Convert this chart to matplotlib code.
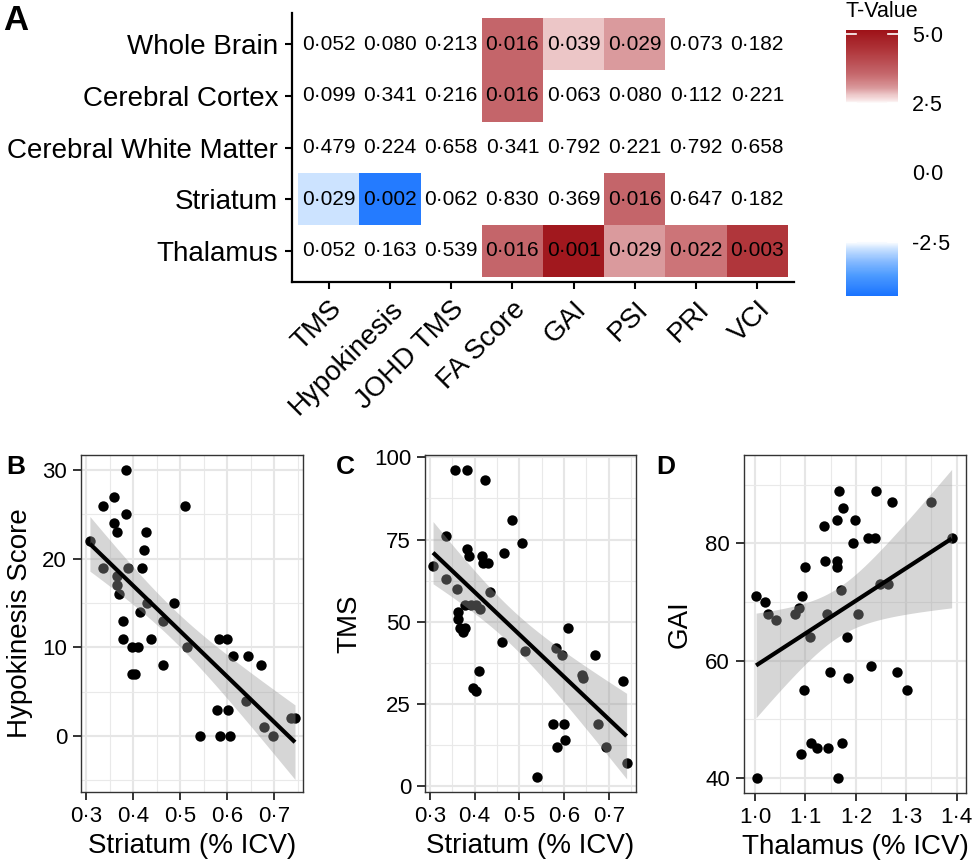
import numpy as np
import matplotlib
matplotlib.use("Agg")
import matplotlib.pyplot as plt
from matplotlib.colors import LinearSegmentedColormap, Normalize
from matplotlib.cm import ScalarMappable
from matplotlib.ticker import FuncFormatter, MultipleLocator

plt.rcParams['font.family'] = ['Liberation Sans', 'DejaVu Sans']

# ---------------- data ----------------
regions = ["Whole Brain", "Cerebral Cortex", "Cerebral White Matter", "Striatum", "Thalamus"]
measures = ["TMS", "Hypokinesis", "JOHD TMS", "FA Score", "GAI", "PSI", "PRI", "VCI"]
p_values = [
    [0.052, 0.080, 0.213, 0.016, 0.039, 0.029, 0.073, 0.182],
    [0.099, 0.341, 0.216, 0.016, 0.063, 0.080, 0.112, 0.221],
    [0.479, 0.224, 0.658, 0.341, 0.792, 0.221, 0.792, 0.658],
    [0.029, 0.002, 0.062, 0.830, 0.369, 0.016, 0.647, 0.182],
    [0.052, 0.163, 0.539, 0.016, 0.001, 0.029, 0.022, 0.003],
]
nan = np.nan
t_values = [
    [nan, nan, nan, 3.6, 2.8, 3.05, nan, nan],
    [nan, nan, nan, 3.6, nan, nan, nan, nan],
    [nan, nan, nan, nan, nan, nan, nan, nan],
    [-2.75, -4.3, nan, nan, nan, 3.6, nan, nan],
    [nan, nan, nan, 3.6, 5.0, 3.05, 3.4, 4.4],
]
cbar_ticks = [-2.5, 0.0, 2.5, 5.0]

striatum_b = [0.308, 0.335, 0.335, 0.360, 0.360, 0.366, 0.385, 0.385, 0.388, 0.365,
              0.365, 0.370, 0.379, 0.378, 0.397, 0.411, 0.397, 0.404, 0.427, 0.422,
              0.418, 0.415, 0.429, 0.437, 0.464, 0.487, 0.464, 0.510, 0.515, 0.541,
              0.578, 0.582, 0.585, 0.600, 0.602, 0.605, 0.613, 0.640, 0.643, 0.672,
              0.679, 0.698, 0.735, 0.744]
hypokinesis = [22, 26, 19, 27, 24, 23, 30, 25, 19, 18,
               17, 16, 13, 11, 10, 10, 7, 7, 23, 21,
               19, 14, 15, 11, 13, 15, 8, 26, 10, 0,
               3, 11, 0, 11, 3, 0, 9, 4, 9, 8,
               1, 0, 2, 2]

striatum_c = [0.307, 0.335, 0.335, 0.357, 0.360, 0.362, 0.363, 0.367, 0.375, 0.378,
              0.378, 0.384, 0.384, 0.387, 0.393, 0.404, 0.412, 0.416, 0.418, 0.431,
              0.424, 0.435, 0.410, 0.396, 0.402, 0.462, 0.465, 0.484, 0.507, 0.513,
              0.539, 0.576, 0.584, 0.582, 0.596, 0.601, 0.603, 0.610, 0.640, 0.643,
              0.669, 0.675, 0.695, 0.733, 0.740]
tms = [67, 76, 63, 96, 60, 53, 51, 48, 47, 48,
       55, 96, 72, 70, 55, 55, 54, 70, 68, 68,
       93, 59, 35, 30, 29, 44, 71, 81, 74, 41,
       3, 19, 12, 42, 40, 19, 14, 48, 34, 33,
       40, 19, 12, 32, 7]

thalamus = [1.003, 1.002, 1.020, 1.026, 1.042, 1.079, 1.087, 1.094, 1.100, 1.097,
            1.091, 1.109, 1.110, 1.122, 1.137, 1.139, 1.142, 1.149, 1.145, 1.162,
            1.162, 1.162, 1.167, 1.170, 1.172, 1.165, 1.175, 1.182, 1.185, 1.194,
            1.198, 1.205, 1.225, 1.237, 1.230, 1.240, 1.248, 1.264, 1.271, 1.282,
            1.301, 1.350, 1.390]
gai = [40, 71, 70, 68, 67, 68, 69, 71, 76, 55,
       44, 64, 46, 45, 83, 77, 68, 58, 45, 84,
       77, 76, 89, 72, 46, 40, 86, 64, 57, 80,
       84, 68, 81, 81, 59, 89, 73, 73, 87, 58,
       55, 87, 81]

# ---------------- colour scale ----------------
vmin, vmax = -4.46, 5.14
stops = [(-4.46, "#1A73FF"), (-3.7, "#4E9CFF"), (-3.2, "#88BBFF"), (-2.75, "#CCE3FF"),
         (-2.5, "#FFFFFF"), (2.5, "#FFFFFF"), (2.6, "#F8E8E8"), (2.8, "#EDC8C9"),
         (3.05, "#DA9A9D"), (3.4, "#CC7579"), (3.6, "#C4656A"), (4.4, "#B0363B"),
         (5.14, "#9E1218")]
cmap = LinearSegmentedColormap.from_list(
    "tval", [((v - vmin) / (vmax - vmin), c) for v, c in stops], N=512)
cmap.set_bad((1, 1, 1, 0))
norm = Normalize(vmin=vmin, vmax=vmax)

def dotfmt(v, digits=1):
    return f"{v:.{digits}f}".replace(".", "\u00b7")

W, H = 975, 866
fig = plt.figure(figsize=(W / 100, H / 100), dpi=100)

def rect(x0, y0, x1, y1):
    return [x0 / W, 1 - y1 / H, (x1 - x0) / W, (y1 - y0) / H]

# ---------------- heatmap ----------------
ax = fig.add_axes(rect(292, 13, 794, 282))
tv = np.ma.masked_invalid(np.array(t_values, dtype=float))
ax.pcolormesh(np.arange(len(measures) + 1) - 0.5, np.arange(len(regions) + 1) - 0.5,
              tv, cmap=cmap, norm=norm, shading='flat')
for i in range(len(regions)):
    for j in range(len(measures)):
        ax.text(j, i, dotfmt(p_values[i][j], 3), ha='center', va='center',
                fontsize=15, color='black')
ax.set_xlim(-0.6, len(measures) - 0.4)
ax.set_ylim(len(regions) - 0.4, -0.6)
ax.set_xticks(range(len(measures)))
ax.set_yticks(range(len(regions)))
ax.set_yticklabels(regions, fontsize=20)
ax.set_xticklabels(measures, fontsize=20, rotation=45, ha='right', va='top',
                   rotation_mode='anchor')
for s in ['top', 'right']:
    ax.spines[s].set_visible(False)
for s in ['left', 'bottom']:
    ax.spines[s].set_linewidth(1.6)
    ax.spines[s].set_color('black')
ax.tick_params(length=5, width=1.5, color='black', pad=5)

# ---------------- colourbar ----------------
cax = fig.add_axes(rect(846, 30, 898, 296))
cb = fig.colorbar(ScalarMappable(norm=norm, cmap=cmap), cax=cax)
cb.outline.set_visible(False)
cb.set_ticks(cbar_ticks)
cb.set_ticklabels([dotfmt(v) for v in cbar_ticks])
cax.tick_params(length=0, labelsize=15.5, pad=10)
for v in cbar_ticks:
    cax.plot([0, 0.2], [v, v], color='white', lw=1.2, transform=cax.get_yaxis_transform())
    cax.plot([0.8, 1.0], [v, v], color='white', lw=1.2, transform=cax.get_yaxis_transform())
fig.text(846 / W, 1 - 1 / H, "T-Value", fontsize=15.5, va='top', ha='left')

# ---------------- scatter panels ----------------
TCRIT = 2.02  # 95% two-sided t quantile, df ~ 41-43

def scatter_panel(r, x, y, xlim, ylim, xmaj, xmin_, ymaj, ymin_, xlabel, ylabel,
                  xdig, ylab_x):
    a = fig.add_axes(r)
    x = np.asarray(x, float)
    y = np.asarray(y, float)
    a.set_axisbelow(True)
    a.xaxis.set_major_locator(MultipleLocator(xmaj))
    a.xaxis.set_minor_locator(MultipleLocator(xmin_))
    a.yaxis.set_major_locator(MultipleLocator(ymaj))
    a.yaxis.set_minor_locator(MultipleLocator(ymin_))
    a.grid(which='major', color='#E6E6E6', lw=1.5)
    a.grid(which='minor', color='#E9E9E9', lw=0.8)
    a.scatter(x, y, s=56, color='black', lw=0, zorder=2)
    # linear fit with 95% confidence band
    n = len(x)
    b1, b0 = np.polyfit(x, y, 1)
    resid = y - (b0 + b1 * x)
    s = np.sqrt(np.sum(resid ** 2) / (n - 2))
    xs = np.linspace(x.min(), x.max(), 80)
    yh = b0 + b1 * xs
    se = s * np.sqrt(1 / n + (xs - x.mean()) ** 2 / np.sum((x - x.mean()) ** 2))
    a.fill_between(xs, yh - TCRIT * se, yh + TCRIT * se, color='#999999', alpha=0.4,
                   lw=0, zorder=3)
    a.plot(xs, yh, color='black', lw=3, zorder=4, solid_capstyle='butt')
    a.set_xlim(*xlim)
    a.set_ylim(*ylim)
    a.xaxis.set_major_formatter(FuncFormatter(lambda v, p: dotfmt(v, xdig)))
    a.yaxis.set_major_formatter(FuncFormatter(lambda v, p: f"{v:.0f}"))
    a.tick_params(which='major', length=6, width=1.4, color='#333333', labelsize=16,
                  labelcolor='black', pad=4)
    a.tick_params(which='minor', length=0)
    for sp in a.spines.values():
        sp.set_color('#333333')
        sp.set_linewidth(1.0)
    a.set_xlabel(xlabel, fontsize=20)
    a.set_ylabel(ylabel, fontsize=20)
    a.xaxis.set_label_coords(0.5, -0.122)
    a.yaxis.set_label_coords(ylab_x, 0.5)
    return a

scatter_panel(rect(81, 455, 303, 792), striatum_b, hypokinesis, (0.289, 0.761), (-6.3, 31.7),
              0.1, 0.05, 10, 5, "Striatum (% ICV)", "Hypokinesis Score", 1, -0.214)
scatter_panel(rect(425, 455, 636, 792), striatum_c, tms, (0.289, 0.761), (-1.7, 100.7),
              0.1, 0.05, 25, 12.5, "Striatum (% ICV)", "TMS", 1, -0.297)
scatter_panel(rect(744, 455, 966, 793), thalamus, gai, (0.978, 1.4185), (37.4, 95.1),
              0.1, 0.05, 20, 10, "Thalamus (% ICV)", "GAI", 1, -0.233)

# panel letters
fig.text(3 / W, 1 - 4 / H, "A", fontsize=25, fontweight='bold', va='top', ha='left')
fig.text(6 / W, 1 - 455 / H, "B", fontsize=19, fontweight='bold', va='top', ha='left')
fig.text(336 / W, 1 - 455 / H, "C", fontsize=19, fontweight='bold', va='top', ha='left')
fig.text(656 / W, 1 - 455 / H, "D", fontsize=19, fontweight='bold', va='top', ha='left')

fig.savefig("out.png", dpi=100, facecolor='white')
